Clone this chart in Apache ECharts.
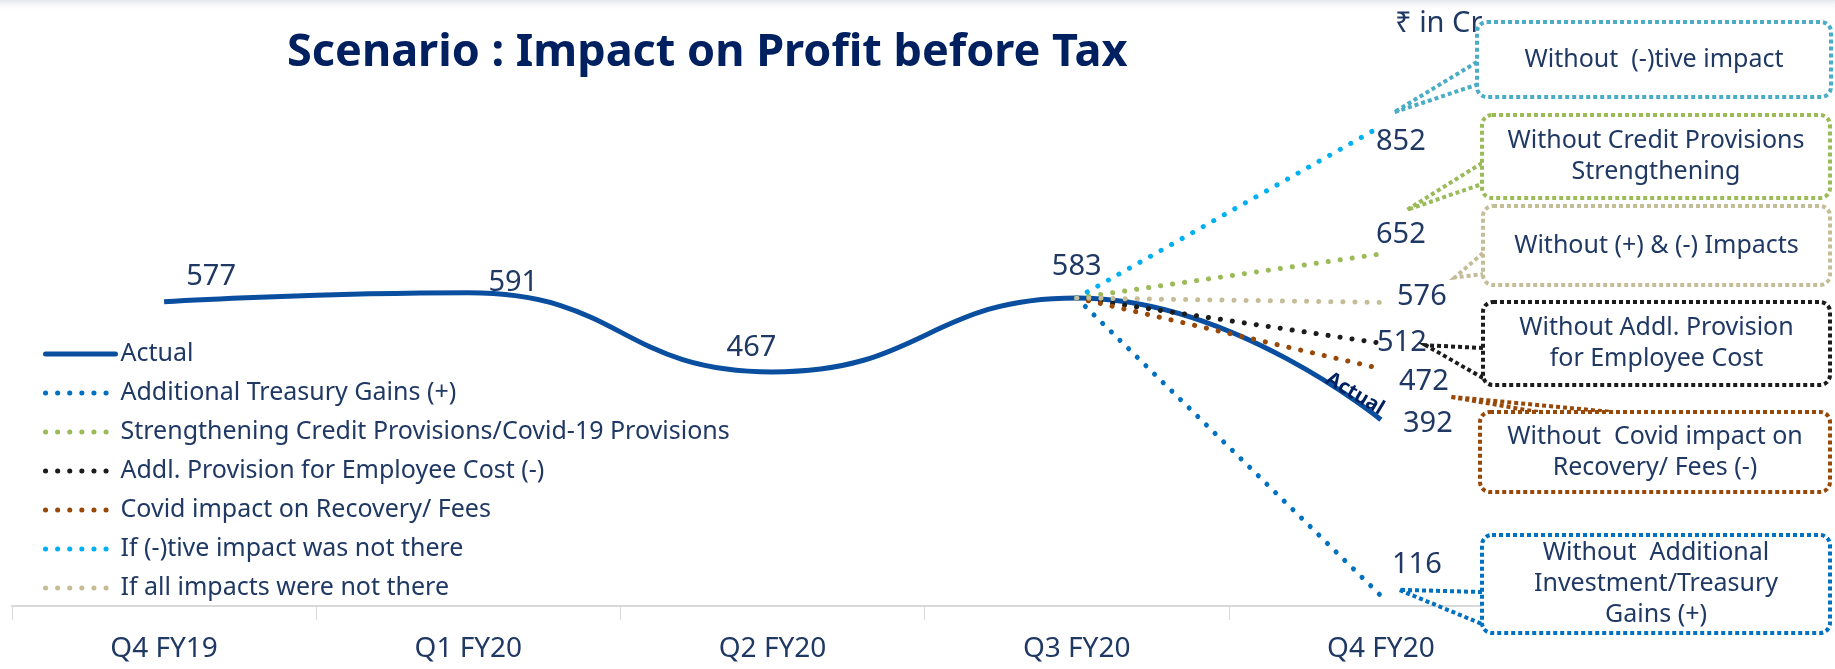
<!DOCTYPE html>
<html>
<head>
<meta charset="utf-8">
<script src="https://cdn.jsdelivr.net/npm/echarts@6/dist/echarts.min.js"></script>
<style>
  html, body { margin: 0; padding: 0; background: #fff; }
  #main { width: 1835px; height: 669px; }
</style>
</head>
<body>
<div id="main"></div>
<script>
// quarters
const categories = ['Q4 FY19', 'Q1 FY20', 'Q2 FY20', 'Q3 FY20', 'Q4 FY20'];
// profit before tax, ₹ in Cr
const actual = [577, 591, 467, 583, 392];
const treasuryGains = [null, null, null, 583, 116];
const creditProvisions = [null, null, null, 583, 652];
const employeeCost = [null, null, null, 583, 512];
const covidRecovery = [null, null, null, 583, 472];
const withoutNegative = [null, null, null, 583, 852];
const withoutAll = [null, null, null, 583, 576];

const FONT = '"Noto Sans", "Open Sans", sans-serif';
const NAVY = '#1f3864';

// where each value label sits, relative to its point
const labelOffsets = {
  actual: [[47, -25], [45, -10], [-21, -24], [0, -31], [47, 4]],
  treasuryGains: [36, -31],
  creditProvisions: [20, -19],
  employeeCost: [21, -1],
  covidRecovery: [43, 13],
  withoutNegative: [20, 15],
  withoutAll: [41, -6]
};

function withLabels(values, offsets) {
  return values.map((v, i) => {
    if (v == null) return null;
    const off = Array.isArray(offsets[0]) ? offsets[i] : (i === values.length - 1 ? offsets : null);
    if (!off) return v;
    return { value: v, label: { show: true, offset: off } };
  });
}

function dotted(name, color, values, offsets) {
  return {
    name: name,
    type: 'line',
    data: withLabels(values, offsets),
    connectNulls: false,
    symbol: 'circle',
    symbolSize: 0.1,
    itemStyle: { color: color },
    lineStyle: { color: color, width: 5, type: [0.1, 12], cap: 'round' },
    label: { show: false, position: 'inside', fontSize: 29, color: NAVY, fontFamily: FONT },
    emphasis: { disabled: true }
  };
}

const chart = echarts.init(document.getElementById('main'));

chart.setOption({
  animation: false,
  title: {
    text: 'Scenario : Impact on Profit before Tax',
    left: 282,
    top: 26,
    textStyle: { fontSize: 45, fontWeight: 'bold', color: '#002060', fontFamily: FONT }
  },
  grid: { left: 12, right: 302, top: 32, bottom: 63, containLabel: false },
  legend: {
    orient: 'vertical',
    left: 38,
    top: 336,
    itemWidth: 70,
    itemHeight: 26,
    itemGap: 13,
    itemStyle: { opacity: 0 },
    lineStyle: { width: 5, cap: 'round' },
    textStyle: { fontSize: 25, lineHeight: 26, color: NAVY, fontFamily: FONT },
    data: ['Actual', 'Additional Treasury Gains (+)', 'Strengthening Credit Provisions/Covid-19 Provisions',
      'Addl. Provision for Employee Cost (-)', 'Covid impact on Recovery/ Fees',
      'If (-)tive impact was not there', 'If all impacts were not there']
  },
  xAxis: {
    type: 'category',
    data: categories,
    boundaryGap: true,
    axisLine: { lineStyle: { color: '#d9d9d9', width: 2 } },
    axisTick: { show: true, length: 14, lineStyle: { color: '#d9d9d9', width: 1 } },
    axisLabel: { fontSize: 28, color: NAVY, fontFamily: FONT, margin: 29 },
    splitLine: { show: false }
  },
  yAxis: { type: 'value', min: 100, max: 1000, show: false, splitLine: { show: false } },
  series: [
    {
      name: 'Actual',
      type: 'line',
      data: withLabels(actual, labelOffsets.actual),
      smooth: 0.5,
      symbol: 'circle',
      symbolSize: 0.1,
      itemStyle: { color: '#0a4f9f' },
      lineStyle: { color: '#0a4f9f', width: 5 },
      label: { show: false, position: 'inside', fontSize: 29, color: NAVY, fontFamily: FONT },
      emphasis: { disabled: true }
    },
    dotted('Additional Treasury Gains (+)', '#0070c0', treasuryGains, labelOffsets.treasuryGains),
    dotted('Strengthening Credit Provisions/Covid-19 Provisions', '#9bbb59', creditProvisions, labelOffsets.creditProvisions),
    dotted('Addl. Provision for Employee Cost (-)', '#1c1c1c', employeeCost, labelOffsets.employeeCost),
    dotted('Covid impact on Recovery/ Fees', '#984807', covidRecovery, labelOffsets.covidRecovery),
    dotted('If (-)tive impact was not there', '#00b0f0', withoutNegative, labelOffsets.withoutNegative),
    dotted('If all impacts were not there', '#c4bd97', withoutAll, labelOffsets.withoutAll)
  ]
});

// callout boxes on the right, pointer tips placed relative to the Q4 FY20 points
const last = categories.length - 1;
const at = (v) => chart.convertToPixel({ xAxisIndex: 0, yAxisIndex: 0 }, [last, v]);

const boxes = [
  { x: 1477, y: 22, w: 354, h: 75, color: '#4bacc6', text: 'Without  (-)tive impact',
    base: [[1477, 62], [1479, 84]], value: withoutNegative[last], tip: [13, -14] },
  { x: 1482, y: 115, w: 348, h: 83, color: '#9bbb59', text: 'Without Credit Provisions\nStrengthening',
    base: [[1482, 163], [1482, 184]], value: creditProvisions[last], tip: [26, -44] },
  { x: 1483, y: 206, w: 347, h: 79, color: '#c4bd97', text: 'Without (+) & (-) Impacts',
    base: [[1483, 253], [1485, 274]], value: withoutAll[last], tip: [74, -25] },
  { x: 1483, y: 302, w: 347, h: 83, color: '#1c1c1c', text: 'Without Addl. Provision\nfor Employee Cost',
    base: [[1483, 348], [1488, 381]], value: employeeCost[last], tip: [45, 2] },
  { x: 1480, y: 412, w: 350, h: 80, color: '#984807', text: 'Without  Covid impact on\nRecovery/ Fees (-)',
    base: [[1538, 412], [1612, 412]], value: covidRecovery[last], tip: [69, 28] },
  { x: 1482, y: 535, w: 348, h: 98, color: '#0070c0', text: 'Without  Additional\nInvestment/Treasury\nGains (+)',
    base: [[1482, 592], [1482, 624]], value: treasuryGains[last], tip: [18, -6] }
];

const graphics = [
  {
    type: 'rect', z: 1, silent: true,
    shape: { x: 0, y: 0, width: 1835, height: 12 },
    style: { fill: new echarts.graphic.LinearGradient(0, 0, 0, 1, [
      { offset: 0, color: '#e3e7ed' }, { offset: 1, color: 'rgba(255,255,255,0)' }]) }
  },
  {
    type: 'text', z: 90, silent: true,
    style: { text: '₹ in Cr', x: 1395, y: 24, verticalAlign: 'middle', font: '29px ' + FONT, fill: NAVY }
  }
];

const endPt = at(actual[last]);
graphics.push({
  type: 'text', z: 90, silent: true,
  x: endPt[0] - 26, y: endPt[1] - 26, rotation: -0.54,
  style: { text: 'Actual', align: 'center', verticalAlign: 'middle', font: 'bold 20px ' + FONT, fill: '#002060' }
});

boxes.forEach((b) => {
  const p = at(b.value);
  const tip = [p[0] + b.tip[0], p[1] + b.tip[1]];
  graphics.push({
    type: 'polyline', z: 95, silent: true,
    shape: { points: [b.base[0], tip, b.base[1]] },
    style: { stroke: b.color, lineWidth: 4, lineDash: [4, 3], fill: null }
  });
  graphics.push({
    type: 'rect', z: 96, silent: true,
    shape: { x: b.x, y: b.y, width: b.w, height: b.h, r: 10 },
    style: { fill: '#fff', stroke: b.color, lineWidth: 4, lineDash: [4, 3] }
  });
  graphics.push({
    type: 'text', z: 97, silent: true,
    style: {
      text: b.text, x: b.x + b.w / 2, y: b.y + b.h / 2,
      align: 'center', verticalAlign: 'middle', lineHeight: 31,
      font: '25px ' + FONT, fill: NAVY
    }
  });
});

chart.setOption({ graphic: graphics });
</script>
</body>
</html>
